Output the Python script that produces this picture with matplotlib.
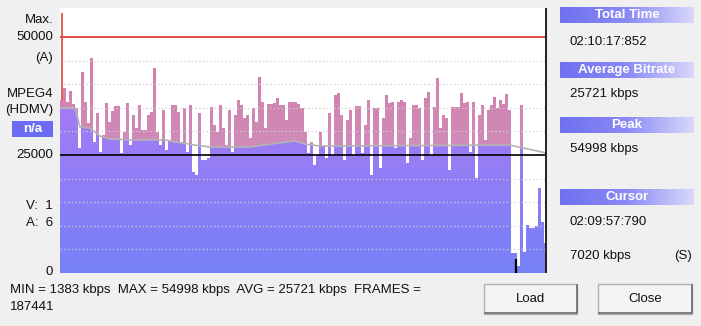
import numpy as np
import matplotlib
matplotlib.use('Agg')
from matplotlib import pyplot as plt
from matplotlib.colors import LinearSegmentedColormap
from matplotlib.patches import Rectangle

plt.rcParams['font.family'] = ['Liberation Sans', 'DejaVu Sans']

# - data ---------------------------------------------------------------------
total_s = 7817.852          # 02:10:17:852
cursor_s = 7797.790         # 02:09:57:790
peak_s = 32
peak_kbps = 54998
min_s = 7320
min_kbps = 1383
max_line = 50000
ref_line = 25000

# bitrate per time slice (kbps)
bitrate = [
    36700, 39200, 36200, 38600, 35800, 35000, 26500, 42600, 36200, 31800,
    45500, 27800, 33900, 25600, 29200, 36000, 32000, 34300, 35400, 35400,
    25400, 29900, 36000, 27100, 33500, 30700, 35600, 30300, 30300, 33500,
    34100, 43400, 29900, 27100, 34500, 26100, 28200, 35600, 35600, 34100,
    27800, 35000, 25600, 35600, 21400, 20800, 33900, 23900, 23900, 24400,
    35200, 31400, 29900, 35600, 30700, 27100, 34500, 25600, 33500, 36700,
    35600, 32800, 33500, 28600, 35000, 32000, 41500, 36200, 30700, 35800,
    35800, 36000, 37100, 35600, 35600, 32400, 36200, 36200, 36200, 35800,
    35000, 29900, 25400, 27800, 22900, 25000, 29900, 27100, 24400, 33900,
    25000, 37700, 38100, 33500, 23900, 32400, 34500, 25000, 35400, 35400,
    25400, 31400, 36700, 20800, 35000, 35000, 22200, 32800, 37700, 36000,
    36200, 26500, 36200, 36700, 36200, 23300, 28600, 35600, 35600, 35000,
    23900, 37100, 38300, 25000, 35200, 41300, 30700, 33500, 32800, 21800,
    35200, 35200, 35200, 38100, 36000, 36200, 25600, 36200, 20100, 33500,
    35600, 28200, 34500, 35600, 37300, 35000, 36700, 35800, 37900, 34500,
    4200, 4200, 1383, 35600, 4400, 10200, 9500, 9500, 10000, 18000,
    10800, 6400,
]

# running average curve (grey line)
avg_t = [0, 241, 321, 482, 642, 803, 1124, 1686, 1846, 2167, 2408,
         3050, 3371, 3772, 3933, 4174, 7224, 7818]
avg_kbps = [35000, 35000, 30900, 30700, 29000, 28400, 28200, 28200, 27800,
            27100, 26700, 26700, 27300, 28000, 27300, 26900, 27100, 25400]

grid_levels = [5000, 10000, 15000, 20000, 30000, 35000, 40000, 45000]

W, H = 701, 326
fig = plt.figure(figsize=(W / 100, H / 100), dpi=100, facecolor='#f0f0f0')

# overlay in pixel coordinates for the dialog parts
ov = fig.add_axes([0, 0, 1, 1], zorder=-1)
ov.set_xlim(0, W)
ov.set_ylim(H, 0)
ov.axis('off')

# - chart --------------------------------------------------------------------
ymax = 56150
ax = fig.add_axes([60 / W, 1 - 273 / H, 487 / W, 265 / H])
ax.set_facecolor('white')
edges = np.linspace(0, total_s, len(bitrate) + 1)


def vgrad(c_bot, c_top, y0, y1, z):
    cmap = LinearSegmentedColormap.from_list('g', [c_bot, c_top])
    g = np.linspace(0, 1, 256).reshape(-1, 1)
    return ax.imshow(g, cmap=cmap, origin='lower', aspect='auto',
                     extent=(0, total_s, y0, y1), zorder=z,
                     interpolation='bilinear')


# pink part: whole bars
sp = ax.stairs(bitrate, edges, baseline=0, fill=True,
               facecolor='none', edgecolor='none')
pink = vgrad('#c6a0d2', '#d8759e', 0, ymax, 1)
pink.set_clip_path(sp)

# purple part: below the average curve
poly = ax.fill_between(avg_t, avg_kbps, 0, facecolor='none', edgecolor='none')
purple = vgrad('#7681f8', '#a67bf4', 0, 36000, 2)
purple.set_clip_path(poly.get_paths()[0], ax.transData)

# blank out everything above the bars
ax.stairs(bitrate, edges, baseline=ymax, fill=True, facecolor='white',
          edgecolor='none', zorder=3)

# peak marker
i_peak = np.searchsorted(edges, peak_s) - 1
ax.vlines(peak_s, bitrate[i_peak], peak_kbps, color='#e0403a', lw=1.2, zorder=4)

for g in grid_levels:
    ax.axhline(g, color='#cfcfcf', lw=0.9, ls=(0, (1, 2)), zorder=4)
ax.plot(avg_t, avg_kbps, color='#b4b4b4', lw=1.2, zorder=5)
ax.axhline(max_line, color='#e0403a', lw=1.3, zorder=6)
ax.axhline(ref_line, color='black', lw=1.2, zorder=6)
# min position tick at the bottom
ax.axvline(min_s, ymin=0, ymax=0.05, color='black', lw=1.6, zorder=6)
ax.axvline(cursor_s, color='#202020', lw=1.4, zorder=6)

ax.set_xlim(0, total_s)
ax.set_ylim(0, ymax)
ax.set_xticks([])
ax.set_yticks([])
for s in ax.spines.values():
    s.set_visible(False)

# - left labels ----------------------------------------------------------------
fs = 9.5
left_labels = [('Max.', 20), ('50000', 37), ('(A)', 58), ('MPEG4', 94),
               ('(HDMV)', 110), ('25000', 155), ('V:  1', 206), ('A:  6', 223),
               ('0', 272)]
for txt, y in left_labels:
    ov.text(53, y, txt, ha='right', va='center', fontsize=fs, color='#111111')
ov.add_patch(Rectangle((12, 121), 41, 16, facecolor='#6c6cf2', edgecolor='none'))
ov.text(32.5, 129.5, 'n/a', ha='center', va='center', fontsize=fs,
        color='white', fontweight='bold')

ov.text(10, 290, 'MIN = 1383 kbps  MAX = 54998 kbps  AVG = 25721 kbps  FRAMES =',
        ha='left', va='center', fontsize=fs, color='#111111')
ov.text(10, 307, '187441', ha='left', va='center', fontsize=fs, color='#111111')

# - right panel ----------------------------------------------------------------
hcmap = LinearSegmentedColormap.from_list('h', ['#7070f2', '#8a8af5', '#d8d8fc'])
headers = [('Total Time', 7), ('Average Bitrate', 62), ('Peak', 117), ('Cursor', 189)]
for txt, y in headers:
    ov.imshow(np.linspace(0, 1, 256).reshape(1, -1), cmap=hcmap, aspect='auto',
              extent=(560, 694, y + 16, y), interpolation='bilinear', zorder=1)
    ov.text(627, y + 8, txt, ha='center', va='center', fontsize=fs,
            color='white', fontweight='bold', zorder=2)

values = [('02:10:17:852', 42), ('25721 kbps', 94), ('54998 kbps', 149),
          ('02:09:57:790', 222), ('7020 kbps', 256)]
for txt, y in values:
    ov.text(570, y, txt, ha='left', va='center', fontsize=fs, color='#111111')
ov.text(692, 256, '(S)', ha='right', va='center', fontsize=fs, color='#111111')

# buttons
for txt, x0, x1 in [('Load', 484, 577), ('Close', 598, 692)]:
    ov.add_patch(Rectangle((x0, 284), x1 - x0, 30, facecolor='#f4f4f4',
                           edgecolor='#b0b0b0', lw=1, zorder=1))
    ov.plot([x0 + 1, x1, x1], [313, 313, 285], color='#6a6a6a', lw=1.2, zorder=2)
    ov.text((x0 + x1) / 2, 299, txt, ha='center', va='center', fontsize=fs,
            color='#111111', zorder=3)

ov.set_xlim(0, W)
ov.set_ylim(H, 0)

fig.savefig('out.png', dpi=100, facecolor=fig.get_facecolor())
